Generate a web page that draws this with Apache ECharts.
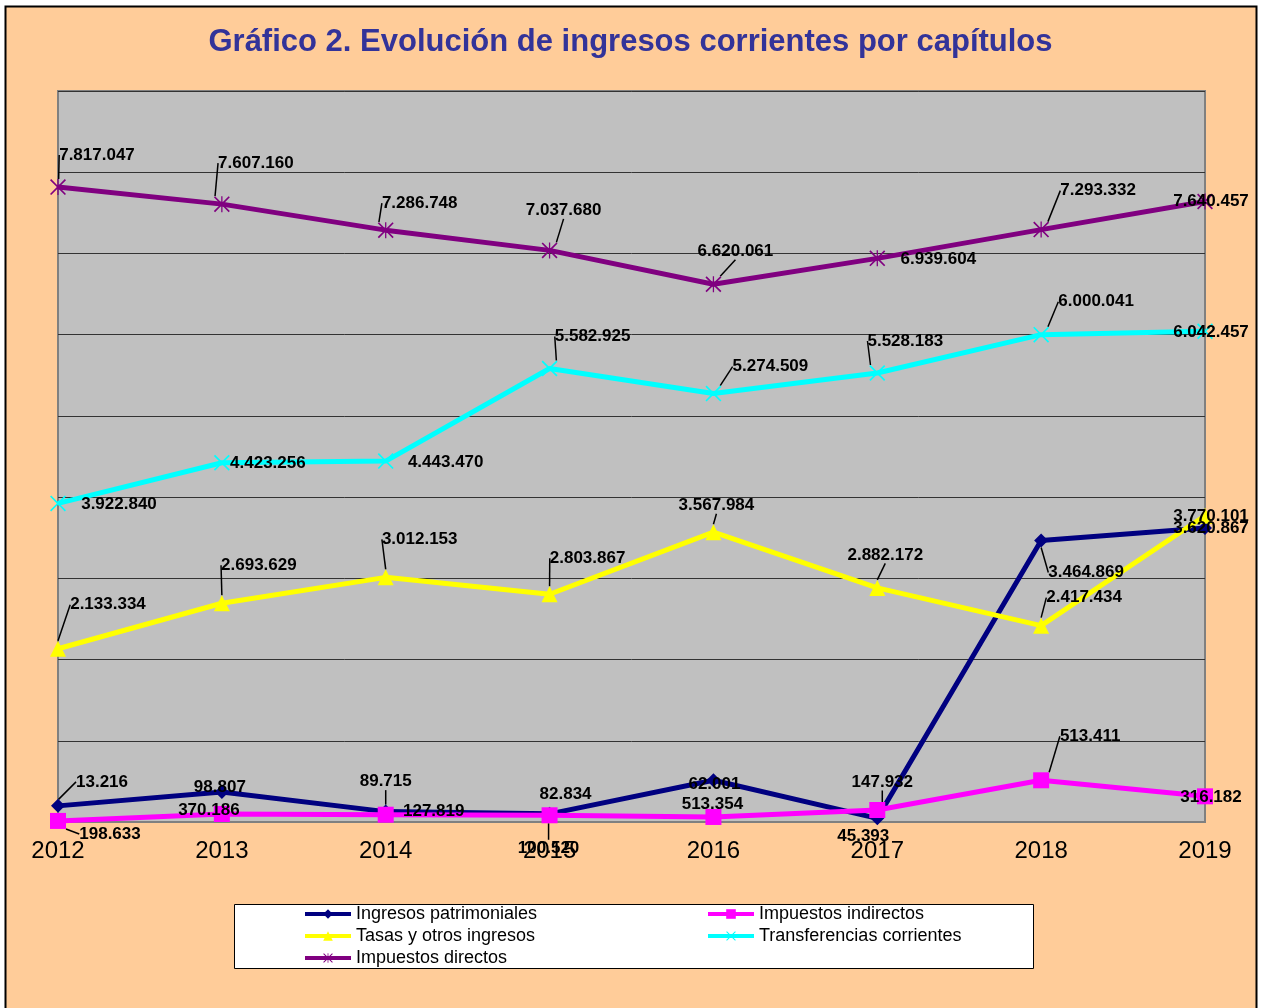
<!DOCTYPE html>
<html>
<head>
<meta charset="utf-8">
<script src="https://cdn.jsdelivr.net/npm/echarts@6/dist/echarts.min.js"></script>
<style>
html,body{margin:0;padding:0;background:#fff;}
#chart{width:1261px;height:1008px;}
</style>
</head>
<body>
<div id="chart"></div>
<script>
// datos del gráfico
var years = ['2012','2013','2014','2015','2016','2017','2018','2019'];
var patrimoniales = [198633, 370186, 127819, 100520, 513354, 45393, 3464869, 3620867];
var indirectos = [13216, 98807, 89715, 82834, 62001, 147932, 513411, 316182];
var tasas = [2133334, 2693629, 3012153, 2803867, 3567984, 2882172, 2417434, 3770101];
var transferencias = [3922840, 4423256, 4443470, 5582925, 5274509, 5528183, 6000041, 6042457];
var directos = [7817047, 7607160, 7286748, 7037680, 6620061, 6939604, 7293332, 7640457];

// textos de etiquetas tal como aparecen junto a cada punto
var patrimonialesText = ['13.216','98.807','89.715','82.834','62.001','45.393','3.464.869','3.620.867'];
var indirectosText = ['198.633','370.186','127.819','100.520','513.354','147.932','513.411','316.182'];

// desplazamientos de las etiquetas [dx, dy, linea guia]
var offPatr = [[44,-24,1],[-2,-5,0],[0,-30,1],[16,-20,0],[1,4,0],[-14,18,0],[45,32,1],[6,0,0]];
var offInd = [[52,13,1],[-13,-4,0],[48,-3,0],[-1,33,1],[-1,-13,0],[5,-28,1],[49,-44,1],[6,1,0]];
var offTasas = [[50,-44,1],[37,-38,1],[34,-38,1],[38,-36,1],[3,-27,1],[8,-33,1],[43,-28,1],[6,1,0]];
var offTransf = [[61,1,0],[46,1,0],[60,1,0],[43,-32,1],[57,-27,1],[28,-32,1],[55,-33,1],[6,1,0]];
var offDir = [[39,-32,1],[34,-41,1],[34,-27,1],[14,-40,1],[22,-33,1],[61,1,0],[57,-39,1],[6,0,0]];

var fmt = function(v){ return String(v).replace(/\B(?=(\d{3})+(?!\d))/g, '.'); };

var symX = 'path://M0,1.5L1.5,0L10,8.5L18.5,0L20,1.5L11.5,10L20,18.5L18.5,20L10,11.5L1.5,20L0,18.5L8.5,10Z';
var symStar = symX + 'M9.2,0L10.8,0L10.8,20L9.2,20Z';

function makeData(vals, texts, offs){
	var out = [];
	for(var i=0;i<vals.length;i++){
		out.push({
			value: vals[i],
			label: {formatter: texts ? texts[i] : fmt(vals[i])},
			labelLine: {show: !!offs[i][2]}
		});
	}
	return out;
}

function makeSeries(name, vals, texts, offs, color, symbol, size){
	return {
		name: name,
		type: 'line',
		data: makeData(vals, texts, offs),
		symbol: symbol,
		symbolSize: size,
		itemStyle: {color: color},
		lineStyle: {color: color, width: 5},
		label: {
			show: true,
			position: 'inside',
			color: '#000',
			fontSize: 17,
			fontWeight: 'bold',
			fontFamily: 'Liberation Sans, Arial, sans-serif'
		},
		labelLine: {show: true, lineStyle: {color: '#000', width: 1.5}},
		labelLayout: function(p){
			var o = offs[p.dataIndex];
			return {dx: o[0], dy: o[1]};
		},
		animation: false
	};
}

var chart = echarts.init(document.getElementById('chart'));
var legendText = {fontSize: 18, color: '#000', fontFamily: 'Liberation Sans Narrow, Liberation Sans, Arial, sans-serif'};
var option = {
	backgroundColor: '#fff',
	graphic: [{
		type: 'rect', z: -10, silent: true,
		shape: {x: 5.5, y: 6.5, width: 1251, height: 1010},
		style: {fill: '#FFCC99', stroke: '#000', lineWidth: 2}
	},{
		type: 'rect', z: -5, silent: true,
		shape: {x: 234.5, y: 904.5, width: 799, height: 64},
		style: {fill: '#fff', stroke: '#000', lineWidth: 1}
	}],
	title: {
		text: 'Gráfico 2. Evolución de ingresos corrientes por capítulos',
		left: 'center',
		top: 22,
		textStyle: {color: '#333399', fontSize: 31, fontWeight: 'bold', fontFamily: 'Liberation Sans, Arial, sans-serif'}
	},
	legend: [{
		orient: 'vertical',
		left: 298, top: 900,
		itemWidth: 46, itemHeight: 12, itemGap: 4,
		lineStyle: {width: 4},
		textStyle: legendText,
		data: ['Ingresos patrimoniales','Tasas y otros ingresos','Impuestos directos']
	},{
		orient: 'vertical',
		left: 701, top: 900,
		itemWidth: 46, itemHeight: 12, itemGap: 4,
		lineStyle: {width: 4},
		textStyle: legendText,
		data: ['Impuestos indirectos','Transferencias corrientes']
	}],
	grid: {
		left: 58, right: 56, top: 91, bottom: 186,
		show: true, backgroundColor: '#C0C0C0', borderColor: '#808080', borderWidth: 2
	},
	xAxis: {
		type: 'category',
		data: years,
		boundaryGap: false,
		axisLine: {lineStyle: {color: '#808080', width: 2}},
		axisTick: {show: false},
		axisLabel: {color: '#000', fontSize: 24, margin: 17, fontFamily: 'Liberation Sans, Arial, sans-serif'}
	},
	yAxis: {
		type: 'value',
		min: 0, max: 9000000, interval: 1000000,
		axisLabel: {show: false},
		axisLine: {show: false},
		axisTick: {show: false},
		splitLine: {lineStyle: {color: '#333', width: 1}}
	},
	series: [
		makeSeries('Ingresos patrimoniales', patrimoniales, patrimonialesText, offPatr, '#000080', 'diamond', 14),
		makeSeries('Impuestos indirectos', indirectos, indirectosText, offInd, '#FF00FF', 'rect', 16),
		makeSeries('Tasas y otros ingresos', tasas, null, offTasas, '#FFFF00', 'triangle', 16),
		makeSeries('Transferencias corrientes', transferencias, null, offTransf, '#00FFFF', symX, 16),
		makeSeries('Impuestos directos', directos, null, offDir, '#800080', symStar, 16)
	]
};
chart.setOption(option);
</script>
</body>
</html>
